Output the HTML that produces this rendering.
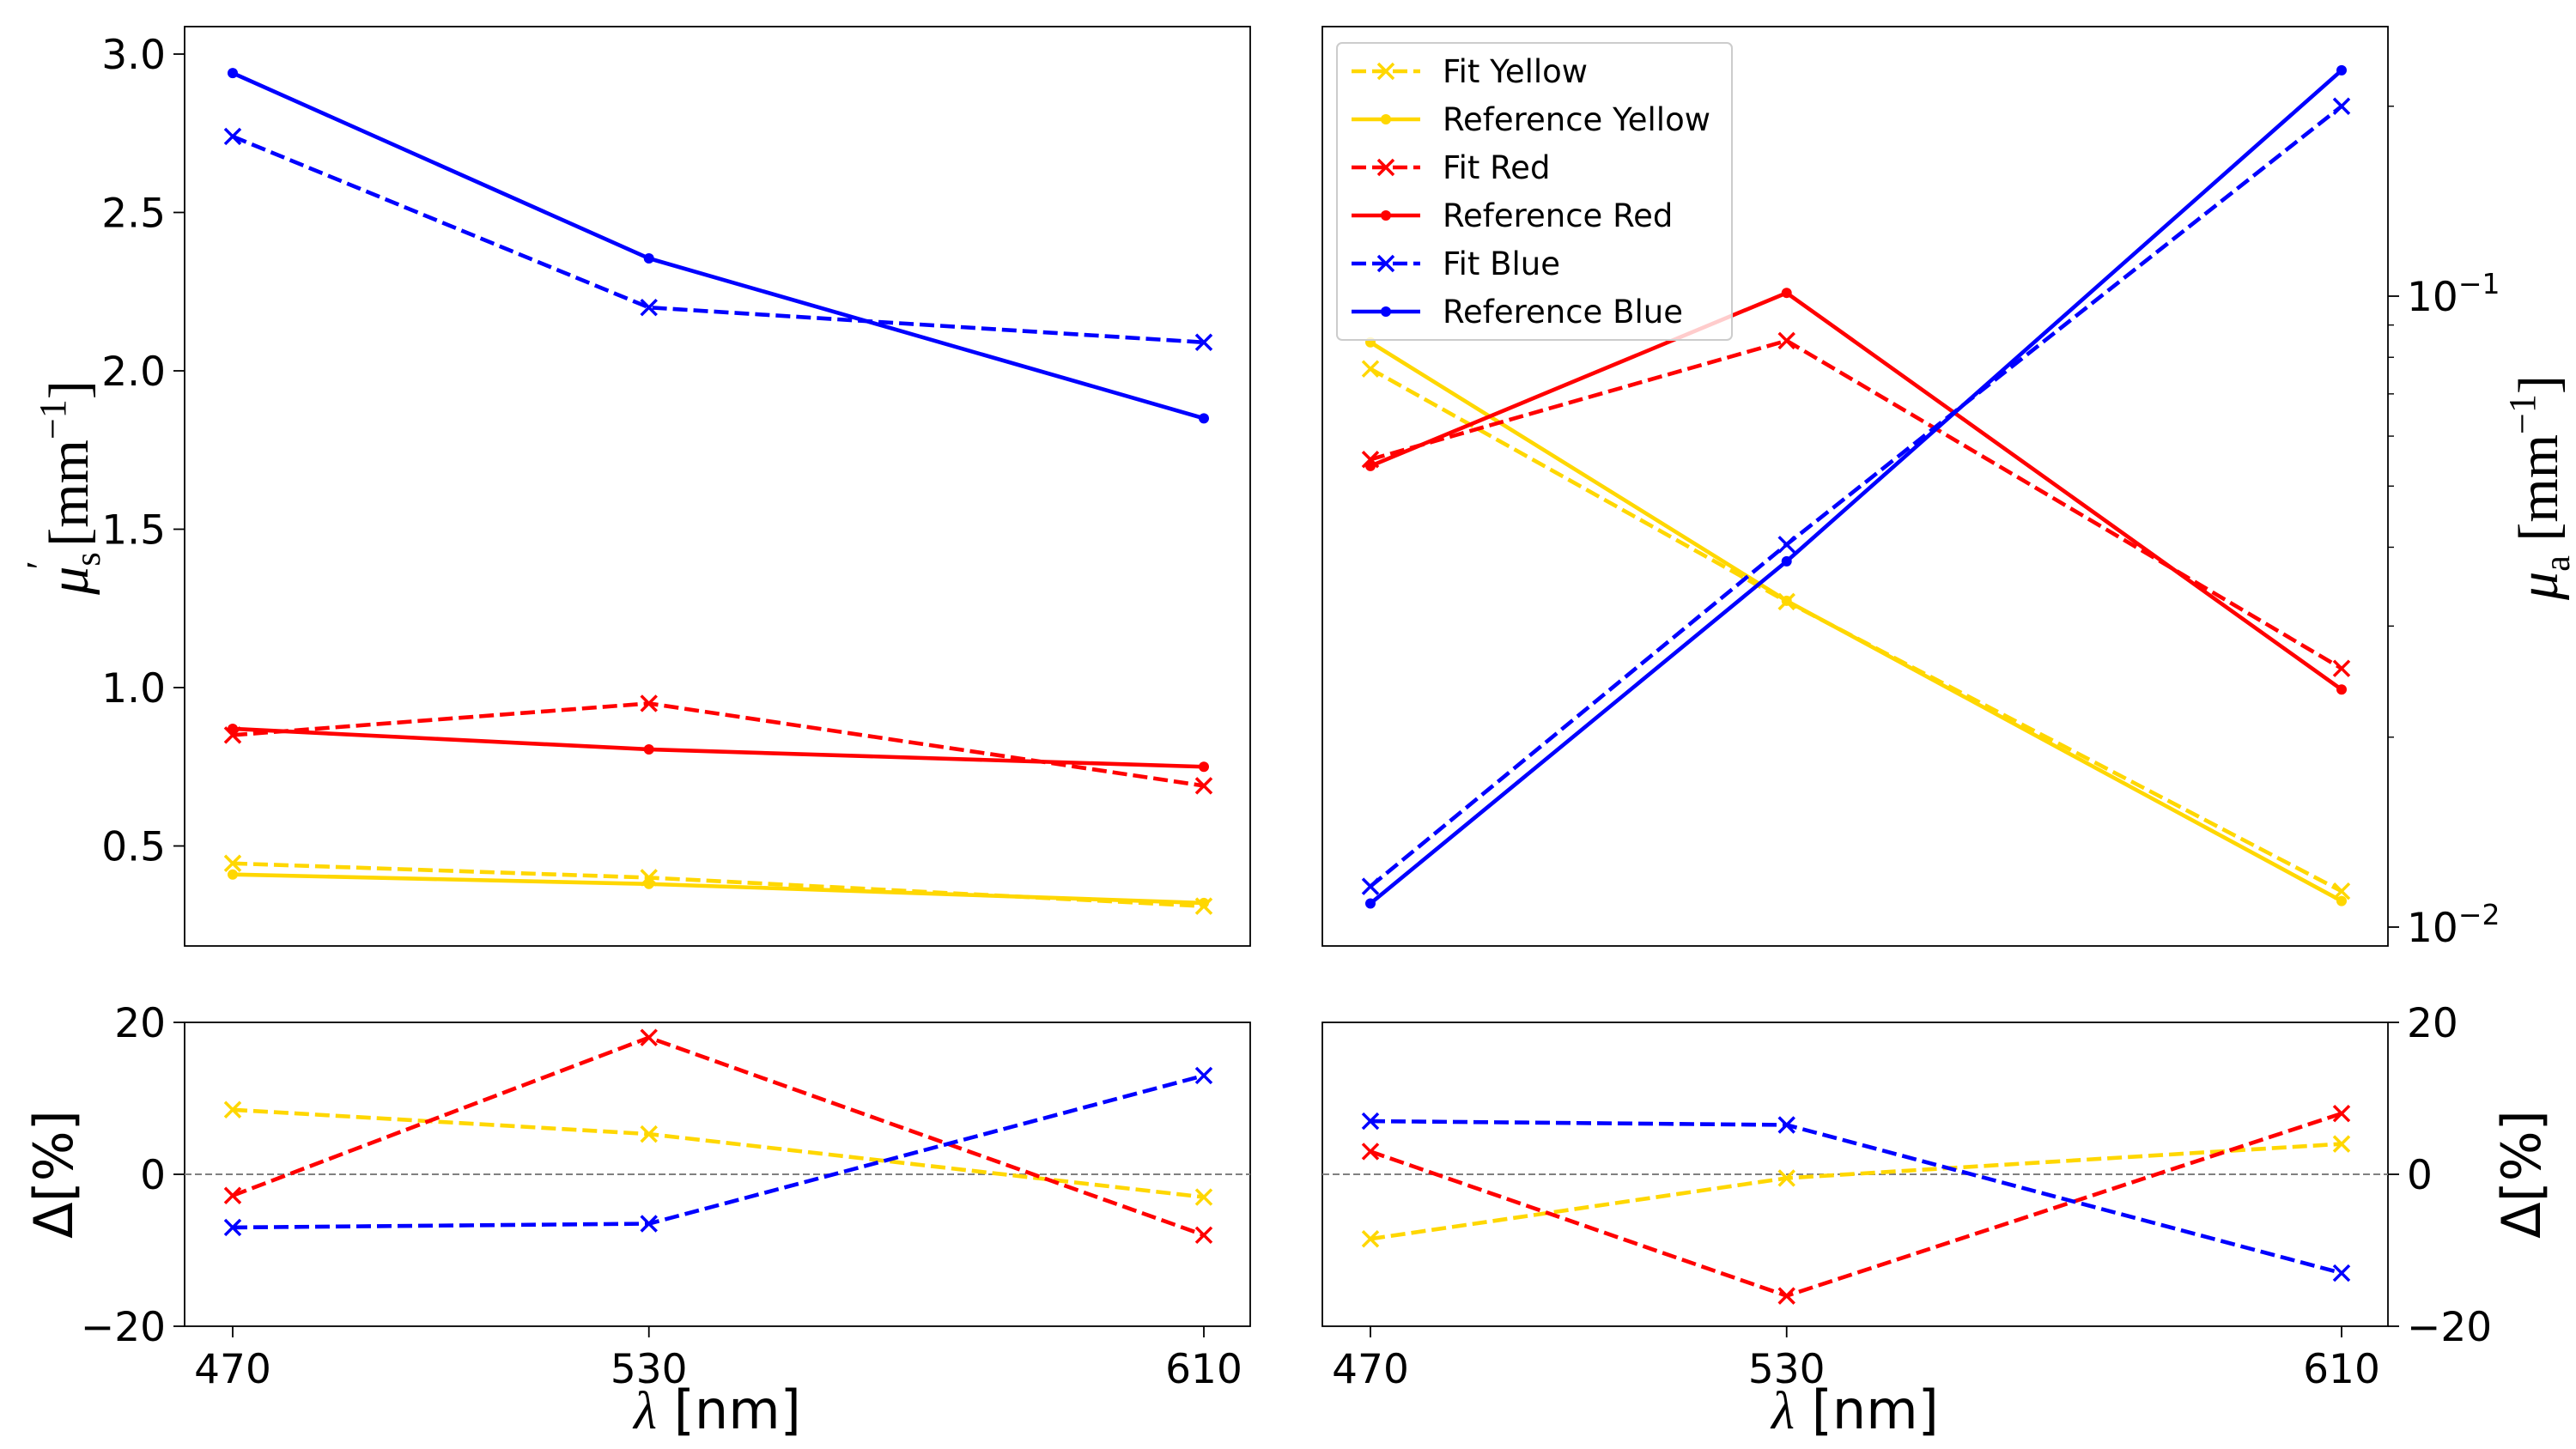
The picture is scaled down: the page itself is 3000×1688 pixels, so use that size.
<!DOCTYPE html>
<html><head><meta charset="utf-8"><style>
html,body{margin:0;padding:0;background:#fff}
svg{display:block}
text{font-family:"DejaVu Sans","Liberation Sans",sans-serif;fill:#000}
</style></head><body>
<svg id="fig" xmlns="http://www.w3.org/2000/svg" width="3000" height="1688" viewBox="0 0 3000 1688">
<g id="root"></g>
</svg>
<script>
const wavelengths = [470, 530, 610];
const xTicks = [470, 530, 610];
const musTicks = [0.5, 1.0, 1.5, 2.0, 2.5, 3.0];
const deltaTicks = [-20, 0, 20];
// mu_s' (left top)
const musRefYellow = [0.41, 0.38, 0.32];
const musFitYellow = [0.445, 0.40, 0.31];
const musRefRed = [0.87, 0.805, 0.75];
const musFitRed = [0.85, 0.95, 0.69];
const musRefBlue = [2.94, 2.355, 1.85];
const musFitBlue = [2.74, 2.20, 2.09];
// mu_a (right top, log)
const muaRefYellow = [0.0845, 0.0329, 0.0110];
const muaFitYellow = [0.0767, 0.0328, 0.0114];
const muaRefRed = [0.0538, 0.1012, 0.0238];
const muaFitRed = [0.0551, 0.0850, 0.0257];
const muaRefBlue = [0.0109, 0.0380, 0.228];
const muaFitBlue = [0.0116, 0.0404, 0.200];
// Delta %
const dLeftYellow = [8.5, 5.3, -3.0];
const dLeftRed = [-2.8, 18.0, -8.0];
const dLeftBlue = [-7.0, -6.5, 13.0];
const dRightYellow = [-8.5, -0.5, 4.0];
const dRightRed = [3.0, -16.0, 8.0];
const dRightBlue = [7.0, 6.5, -13.0];

const NS = "http://www.w3.org/2000/svg";
const root = document.getElementById('root');
function el(tag, attrs, parent, txt){
  const e = document.createElementNS(NS, tag);
  for (const k in attrs) e.setAttribute(k, attrs[k]);
  if (txt !== undefined) e.textContent = txt;
  (parent || root).appendChild(e);
  return e;
}
const YEL = '#ffd700', RED = '#ff0000', BLU = '#0000ff';

const L = {x0:215, x1:1456}, R = {x0:1540, x1:2781};
const TOP = {y0:31, y1:1102}, BOT = {y0:1191, y1:1545};
const xL = v => 271 + (v-470)*(1402-271)/140;
const xR = v => 1596 + (v-470)*(2727-1596)/140;
const yMus = v => 63 + (3.0 - v)*369;
const yLog = v => 345 - (Math.log10(v)+1)*735;
const yD = v => 1368 - v*(1545-1191)/40;

function frame(ax, yr, name){
  const r = el('rect', {x:ax.x0, y:yr.y0, width:ax.x1-ax.x0, height:yr.y1-yr.y0, fill:'none', stroke:'#000', 'stroke-width':1.8}, root);
  
  
}

function series(xs, ys, xf, yf, color, dashed, marker, name){
  const g = el('g', {}, root);
  
  
  const pts = xs.map((x,i)=> [xf(x), yf(ys[i])]);
  el('polyline', {points: pts.map(p=>p.join(',')).join(' '), fill:'none', stroke:color, 'stroke-width':4.6,
    'stroke-dasharray': dashed ? '17,7' : 'none'}, g);
  pts.forEach(p=>{
    if (marker==='x'){
      const s=9;
      el('path', {d:`M${p[0]-s},${p[1]-s}L${p[0]+s},${p[1]+s}M${p[0]-s},${p[1]+s}L${p[0]+s},${p[1]-s}`, stroke:color, 'stroke-width':3.5}, g);
    } else {
      el('circle', {cx:p[0], cy:p[1], r:6, fill:color}, g);
    }
  });
}

// ---- Top-left ----
frame(L, TOP, 'mus-axes');
musTicks.forEach(t=>{
  const y = yMus(t);
  el('line', {x1:L.x0-13, x2:L.x0, y1:y, y2:y, stroke:'#000','stroke-width':1.8});
  const tx = el('text', {x:L.x0-22, y:y+17, 'font-size':47, 'text-anchor':'end'}, root, t.toFixed(1));
  
  
});
series(wavelengths, musFitYellow, xL, yMus, YEL, true, 'x', 'mus-fit-yellow');
series(wavelengths, musRefYellow, xL, yMus, YEL, false, 'o', 'mus-ref-yellow');
series(wavelengths, musFitRed, xL, yMus, RED, true, 'x', 'mus-fit-red');
series(wavelengths, musRefRed, xL, yMus, RED, false, 'o', 'mus-ref-red');
series(wavelengths, musFitBlue, xL, yMus, BLU, true, 'x', 'mus-fit-blue');
series(wavelengths, musRefBlue, xL, yMus, BLU, false, 'o', 'mus-ref-blue');
{
  const t = el('text', {transform:'translate(102,568) rotate(-90)', 'text-anchor':'middle', 'font-size':66, style:'font-family:"Liberation Serif",serif'}, root);
  
  
  el('tspan', {'font-style':'italic'}, t, 'μ');
  el('tspan', {'font-size':42, dy:14}, t, 's');
  el('tspan', {'font-size':46, dy:-54, dx:-20}, t, '′');
  el('tspan', {dy:40}, t, ' [mm');
  el('tspan', {'font-size':44, dy:-26}, t, '−1');
  el('tspan', {dy:26}, t, ']');
}

// ---- Top-right (log) ----
frame(R, TOP, 'mua-axes');
[0.01, 0.1].forEach((t,i)=>{
  const y = yLog(t);
  el('line', {x1:R.x1, x2:R.x1+13, y1:y, y2:y, stroke:'#000','stroke-width':1.8});
  const tx = el('text', {x:R.x1+22, y:y+17, 'font-size':47}, root);
  
  
  el('tspan', {}, tx, '10');
  el('tspan', {'font-size':33, dy:-20}, tx, i===0?'−2':'−1');
});
[0.02,0.03,0.04,0.05,0.06,0.07,0.08,0.09,0.2].forEach(t=>{
  const y=yLog(t);
  if (y>TOP.y0) el('line', {x1:R.x1, x2:R.x1+7, y1:y, y2:y, stroke:'#000','stroke-width':1.4});
});
series(wavelengths, muaFitYellow, xR, yLog, YEL, true, 'x', 'mua-fit-yellow');
series(wavelengths, muaRefYellow, xR, yLog, YEL, false, 'o', 'mua-ref-yellow');
series(wavelengths, muaFitRed, xR, yLog, RED, true, 'x', 'mua-fit-red');
series(wavelengths, muaRefRed, xR, yLog, RED, false, 'o', 'mua-ref-red');
series(wavelengths, muaFitBlue, xR, yLog, BLU, true, 'x', 'mua-fit-blue');
series(wavelengths, muaRefBlue, xR, yLog, BLU, false, 'o', 'mua-ref-blue');
{
  const t = el('text', {transform:'translate(2978,568) rotate(-90)', 'text-anchor':'middle', 'font-size':66, style:'font-family:"Liberation Serif",serif'}, root);
  
  
  el('tspan', {'font-style':'italic'}, t, 'μ');
  el('tspan', {'font-size':42, dy:14}, t, 'a');
  el('tspan', {dy:-14}, t, ' [mm');
  el('tspan', {'font-size':44, dy:-26}, t, '−1');
  el('tspan', {dy:26}, t, ']');
}

// Legend
{
  const g = el('g', {}, root);
  
  
  el('rect', {x:1557, y:50, width:460, height:346, rx:6, fill:'#fff', 'fill-opacity':0.8, stroke:'#ccc', 'stroke-width':2}, g);
  const items = [['Fit Yellow',YEL,true,'x'],['Reference Yellow',YEL,false,'o'],['Fit Red',RED,true,'x'],['Reference Red',RED,false,'o'],['Fit Blue',BLU,true,'x'],['Reference Blue',BLU,false,'o']];
  items.forEach((it,i)=>{
    const y = 83 + i*56;
    const e = el('g', {}, g);
    
    
    el('line', {x1:1574, x2:1654, y1:y, y2:y, stroke:it[1], 'stroke-width':4.6, 'stroke-dasharray': it[2]?'17,7':'none'}, e);
    if (it[3]==='x') el('path', {d:`M1605,${y-9}L1623,${y+9}M1605,${y+9}L1623,${y-9}`, stroke:it[1], 'stroke-width':3.5}, e);
    else el('circle', {cx:1614, cy:y, r:6, fill:it[1]}, e);
    el('text', {x:1680, y:y+13, 'font-size':37}, e, it[0]);
  });
}

// ---- Bottom panels ----
function deltaPanel(ax, xf, ys, side, prefix){
  frame(ax, BOT, prefix+'-axes');
  el('line', {x1:ax.x0, x2:ax.x1, y1:yD(0), y2:yD(0), stroke:'#808080', 'stroke-width':2, 'stroke-dasharray':'8,4'});
  deltaTicks.forEach(t=>{
    const y=yD(t);
    const lbl = t<0 ? '−'+Math.abs(t) : String(t);
    if (side==='left'){
      el('line', {x1:ax.x0-13, x2:ax.x0, y1:y, y2:y, stroke:'#000','stroke-width':1.8});
      const tx = el('text', {x:ax.x0-22, y:y+17, 'font-size':47, 'text-anchor':'end'}, root, lbl);
      
      
    } else {
      el('line', {x1:ax.x1, x2:ax.x1+13, y1:y, y2:y, stroke:'#000','stroke-width':1.8});
      const tx = el('text', {x:ax.x1+22, y:y+17, 'font-size':47}, root, lbl);
      
      
    }
  });
  xTicks.forEach(t=>{
    el('line', {x1:xf(t), x2:xf(t), y1:BOT.y1, y2:BOT.y1+13, stroke:'#000','stroke-width':1.8});
    const tx = el('text', {x:xf(t), y:BOT.y1+66, 'font-size':47, 'text-anchor':'middle'}, root, String(t));
    
    
  });
  series(wavelengths, ys[0], xf, yD, YEL, true, 'x', prefix+'-yellow');
  series(wavelengths, ys[1], xf, yD, RED, true, 'x', prefix+'-red');
  series(wavelengths, ys[2], xf, yD, BLU, true, 'x', prefix+'-blue');
  const xt = el('text', {x:(ax.x0+ax.x1)/2, y:1664, 'font-size':62, 'text-anchor':'middle'}, root);
  
  
  el('tspan', {'font-style':'italic', style:'font-family:"Liberation Serif",serif'}, xt, 'λ');
  el('tspan', {}, xt, ' [nm]');
  const yx = side==='left' ? 84 : 2958;
  const yt = el('text', {transform:`translate(${yx},1368) rotate(-90)`, 'font-size':62, 'text-anchor':'middle'}, root, 'Δ[%]');
  
  
}
deltaPanel(L, xL, [dLeftYellow, dLeftRed, dLeftBlue], 'left', 'delta-mus');
deltaPanel(R, xR, [dRightYellow, dRightRed, dRightBlue], 'right', 'delta-mua');
</script>
</body></html>
